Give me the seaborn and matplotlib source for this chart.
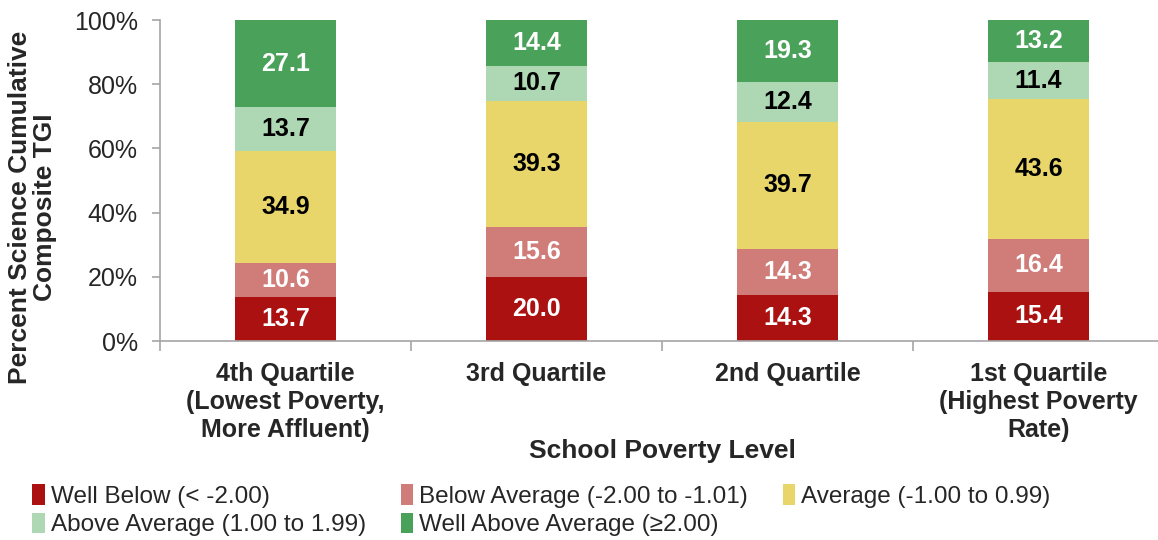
import numpy as np
import pandas as pd
import matplotlib
matplotlib.use("Agg")
import matplotlib.pyplot as plt
from matplotlib.ticker import FixedLocator, PercentFormatter
from matplotlib.patches import Patch
import seaborn as sns

# --- data ---
quartiles = [
    "4th Quartile\n(Lowest Poverty,\nMore Affluent)",
    "3rd Quartile",
    "2nd Quartile",
    "1st Quartile\n(Highest Poverty\nRate)",
]
categories = [
    "Well Below (< -2.00)",
    "Below Average (-2.00 to -1.01)",
    "Average (-1.00 to 0.99)",
    "Above Average (1.00 to 1.99)",
    "Well Above Average (\u22652.00)",
]
well_below = [13.7, 20.0, 14.3, 15.4]
below_avg = [10.6, 15.6, 14.3, 16.4]
average = [34.9, 39.3, 39.7, 43.6]
above_avg = [13.7, 10.7, 12.4, 11.4]
well_above = [27.1, 14.4, 19.3, 13.2]

colors = ["#AC1111", "#D07C79", "#E8D66B", "#AED8B3", "#4AA25A"]
label_colors = ["white", "white", "black", "black", "white"]

series = [well_below, below_avg, average, above_avg, well_above]

sns.set_style("white")
plt.rcParams["font.family"] = ["Liberation Sans", "DejaVu Sans"]

fig = plt.figure(figsize=(11.58, 5.4), dpi=100)
ax = fig.add_axes([0.1382, 0.3685, 0.867, 0.5944])

bottom = np.zeros(len(quartiles))
for name, vals, col, lcol in zip(categories, series, colors, label_colors):
    df = pd.DataFrame({"quartile": quartiles, "value": vals})
    sns.barplot(data=df, x="quartile", y="value", order=quartiles, color=col,
                bottom=bottom, width=0.4, ax=ax, saturation=1, linewidth=0)
    cont = ax.containers[-1]
    ax.bar_label(cont, labels=[f"{v:.1f}" for v in vals], label_type="center",
                 color=lcol, fontsize=18, fontweight="bold")
    bottom = bottom + np.array(vals)

ax.set_xlim(-0.5, 3.5)
ax.set_ylim(0, 100)
ax.yaxis.set_major_locator(FixedLocator([0, 20, 40, 60, 80, 100]))
ax.yaxis.set_major_formatter(PercentFormatter(decimals=0))

spine_col = "#A6A6A6"
for s in ["top", "right"]:
    ax.spines[s].set_visible(False)
for s in ["left", "bottom"]:
    ax.spines[s].set_color(spine_col)
    ax.spines[s].set_linewidth(1.2)

ax.tick_params(axis="y", which="major", length=6, width=1.2, color=spine_col,
               direction="out", labelsize=18, pad=10, left=True)
ax.tick_params(axis="x", which="major", length=0, labelsize=18, pad=15)
ax.xaxis.set_minor_locator(FixedLocator([-0.5, 0.5, 1.5, 2.5, 3.5]))
ax.tick_params(axis="x", which="minor", length=7, width=1.2, color=spine_col,
               direction="out", bottom=True)
for lab in ax.get_xticklabels():
    lab.set_fontweight("bold")
    lab.set_multialignment("center")
    lab.set_linespacing(1.22)

ax.set_xlabel("School Poverty Level", fontsize=19, fontweight="bold")
ax.xaxis.set_label_coords(0.5, -0.305)
ax.set_ylabel("Percent Science Cumulative\nComposite TGI", fontsize=19,
              fontweight="bold", linespacing=1.05)
ax.yaxis.set_label_coords(-0.1026, 0.417)

# legend, filled column-wise so it reads row by row
handles = [Patch(facecolor=c, edgecolor="none") for c in colors]
order = [0, 3, 1, 4, 2]
fig.legend([handles[i] for i in order], [categories[i] for i in order],
           ncol=3, loc="upper left", bbox_to_anchor=(0.028, 0.103), frameon=False,
           fontsize=17.5, handlelength=0.5, handleheight=0.9, handletextpad=0.25,
           columnspacing=1.45, labelspacing=0.2, borderaxespad=0, borderpad=0)

fig.savefig("out.png", dpi=100)
